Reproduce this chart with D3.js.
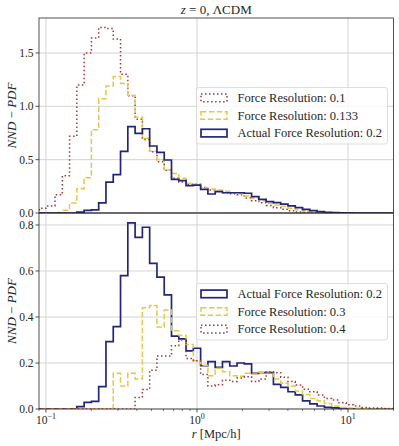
<!DOCTYPE html>
<html>
<head>
<meta charset="utf-8">
<script src="https://cdn.jsdelivr.net/npm/d3@7/dist/d3.min.js"></script>
<style>
  body { margin: 0; background: #fff; }
  svg { display: block; }
  text { font-family: "Liberation Serif", "DejaVu Serif", serif; fill: #262626; }
</style>
</head>
<body>
<div id="chart"></div>
<script>
// log-spaced bins shared by all histograms (first edge, width in dex, count)
var firstEdgeLog = -1.1326, binDex = 0.0482, nBins = 51;
var edges = d3.range(nBins + 1).map(function(i){ return Math.pow(10, firstEdgeLog + i * binDex); });

// top panel: z = 0
var redTop = [0.02,0.03,0.045,0.065,0.17,0.35,0.72,1.20,1.50,1.64,1.74,1.73,1.63,1.30,1.10,0.88,0.69,0.575,0.48,0.40,
  0.325,0.29,0.27,0.27,0.24,0.215,0.205,0.19,0.18,0.17,0.14,0.115,0.097,0.07,0.05,0.035,0.02,0.01,0.006,0.003,
  0.002,0.001,0,0,0,0,0,0,0,0,0];
var yellowTop = [0,0,0,0,0.005,0.025,0.094,0.228,0.33,0.78,1.07,1.19,1.28,1.215,1.105,0.90,0.70,0.58,0.50,0.405,
  0.37,0.325,0.28,0.27,0.24,0.225,0.215,0.205,0.19,0.18,0.16,0.135,0.115,0.09,0.075,0.06,0.045,0.03,0.02,0.012,
  0.007,0.004,0.002,0.001,0,0,0,0,0,0,0];
var blueTop = [0,0,0,0,0,0,0,0.008,0.025,0.03,0.094,0.29,0.36,0.578,0.81,0.747,0.79,0.628,0.569,0.497,
  0.316,0.303,0.256,0.262,0.222,0.178,0.20,0.19,0.19,0.19,0.185,0.153,0.128,0.106,0.097,0.084,0.066,0.05,0.034,0.022,
  0.013,0.007,0.004,0.002,0.001,0,0,0,0,0,0];
// bottom panel
var blueBot = [0,0,0,0,0,0,0,0.01,0.029,0.033,0.097,0.293,0.358,0.58,0.809,0.746,0.79,0.633,0.573,0.496,
  0.317,0.305,0.253,0.264,0.188,0.206,0.181,0.206,0.187,0.20,0.196,0.155,0.158,0.158,0.107,0.094,0.075,0.061,0.035,0.022,
  0.013,0.007,0.005,0.002,0.001,0,0,0,0,0,0];
var yellowBot = [0,0,0,0,0,0,0,0,0,0,0,0,0.155,0.10,0.155,0.13,0.44,0.45,0.356,0.43,
  0.34,0.32,0.28,0.21,0.19,0.145,0.177,0.162,0.145,0.142,0.155,0.152,0.158,0.162,0.13,0.112,0.10,0.078,0.063,0.046,
  0.036,0.024,0.013,0.007,0.004,0.003,0.002,0.001,0,0,0];
var redBot = [0,0,0,0,0,0,0,0,0,0,0,0,0,0,0,0.05,0.085,0.168,0.23,0.23,
  0.275,0.30,0.22,0.21,0.15,0.10,0.105,0.125,0.12,0.135,0.14,0.12,0.13,0.162,0.158,0.138,0.119,0.104,0.086,0.075,
  0.061,0.046,0.039,0.027,0.019,0.013,0.007,0.004,0.004,0.002,0.002];

var topTicks = [0, 0.5, 1.0, 1.5];
var botTicks = [0, 0.2, 0.4, 0.6, 0.8];
var xMajor = [0.1, 1, 10];
var xMajorExp = ["\u22121", "0", "1"];
var topLabels = ["Force Resolution: 0.1", "Force Resolution: 0.133", "Actual Force Resolution: 0.2"];
var botLabels = ["Actual Force Resolution: 0.2", "Force Resolution: 0.3", "Force Resolution: 0.4"];

var W = 399, H = 446;
var left = 39, right = 393.5;

var styles = {
  red:    {color: "#a8343a", dash: "1.5,2.5", width: 1.5},
  yellow: {color: "#e6c64c", dash: "5.5,2.4", width: 1.5},
  blue:   {color: "#22267a", dash: null, width: 1.7}
};

var svg = d3.select("#chart").append("svg")
    .attr("width", W).attr("height", H);

var x = d3.scaleLog().domain([0.09, 20]).range([left, right]);

var minorTicks = [];
[0.01, 0.1, 1, 10].forEach(function(dec){
  for (var m = 2; m <= 9; m++) {
    var v = m * dec;
    if (v >= 0.09 && v <= 20) minorTicks.push(v);
  }
});

function stepPoints(vals){
  var pts = [[edges[0], 0]];
  vals.forEach(function(v, i){
    pts.push([edges[i], v]);
    pts.push([edges[i + 1], v]);
  });
  pts.push([edges[vals.length], 0]);
  return pts;
}

function panel(id, top, bottom, ymax, ticks, series, labels, legendTop, showX){
  var y = d3.scaleLinear().domain([0, ymax]).range([bottom, top]);
  var g = svg.append("g");

  svg.append("clipPath").attr("id", id)
    .append("rect").attr("x", left).attr("y", top)
    .attr("width", right - left).attr("height", bottom - top);

  // grid
  g.selectAll(".hg").data(ticks).enter().append("line")
    .attr("x1", left).attr("x2", right)
    .attr("y1", function(d){ return y(d); }).attr("y2", function(d){ return y(d); })
    .attr("stroke", "#cfcfcf").attr("stroke-width", 0.9);
  g.selectAll(".vg").data(xMajor).enter().append("line")
    .attr("x1", function(d){ return x(d); }).attr("x2", function(d){ return x(d); })
    .attr("y1", top).attr("y2", bottom)
    .attr("stroke", "#cfcfcf").attr("stroke-width", 0.9);

  // histograms
  var line = d3.line()
    .x(function(d){ return x(d[0]); })
    .y(function(d){ return y(d[1]); });
  var hg = g.append("g").attr("clip-path", "url(#" + id + ")");
  series.forEach(function(s){
    var st = styles[s.style];
    hg.append("path")
      .datum(stepPoints(s.values))
      .attr("d", line)
      .attr("fill", "none")
      .attr("stroke", st.color)
      .attr("stroke-width", st.width)
      .attr("stroke-dasharray", st.dash)
      .attr("stroke-linejoin", "miter");
  });

  // frame
  g.append("rect").attr("x", left).attr("y", top)
    .attr("width", right - left).attr("height", bottom - top)
    .attr("fill", "none").attr("stroke", "#262626").attr("stroke-width", 0.8);

  // y ticks
  var yt = g.selectAll(".yt").data(ticks).enter().append("g");
  yt.append("line")
    .attr("x1", left - 3.5).attr("x2", left)
    .attr("y1", function(d){ return y(d); }).attr("y2", function(d){ return y(d); })
    .attr("stroke", "#262626").attr("stroke-width", 0.8);
  yt.append("text")
    .attr("x", left - 5.5).attr("y", function(d){ return y(d) + 4; })
    .attr("text-anchor", "end").attr("font-size", 11.5)
    .text(function(d){ return d3.format(".1f")(d); });

  // y label
  var yl = g.append("text")
    .attr("transform", "translate(16," + ((top + bottom) / 2) + ") rotate(-90)")
    .attr("text-anchor", "middle").attr("font-size", 13);
  yl.append("tspan").attr("font-style", "italic").text("NND");
  yl.append("tspan").text(" \u2212 ");
  yl.append("tspan").attr("font-style", "italic").text("PDF");

  if (showX) {
    g.selectAll(".xt").data(xMajor).enter().append("line")
      .attr("x1", function(d){ return x(d); }).attr("x2", function(d){ return x(d); })
      .attr("y1", bottom).attr("y2", bottom + 3.5)
      .attr("stroke", "#262626").attr("stroke-width", 0.8);
    g.selectAll(".xm").data(minorTicks).enter().append("line")
      .attr("x1", function(d){ return x(d); }).attr("x2", function(d){ return x(d); })
      .attr("y1", bottom).attr("y2", bottom + 2)
      .attr("stroke", "#262626").attr("stroke-width", 0.6);
    var xl = g.selectAll(".xl").data(xMajor).enter().append("text")
      .attr("x", function(d){ return x(d); }).attr("y", bottom + 15)
      .attr("text-anchor", "middle").attr("font-size", 11.5);
    xl.append("tspan").text("10");
    xl.append("tspan").attr("font-size", 8).attr("dy", -5)
      .text(function(d, i){ return xMajorExp[i]; });
  }

  // legend
  var lx = 196.5, lw = 191, lh = 56.5, rowH = 17.6;
  var lg = g.append("g");
  lg.append("rect").attr("x", lx).attr("y", legendTop)
    .attr("width", lw).attr("height", lh).attr("rx", 2.5)
    .attr("fill", "#fff").attr("fill-opacity", 0.8)
    .attr("stroke", "#d4d4d4").attr("stroke-width", 0.8);
  labels.forEach(function(lab, i){
    var st = styles[series[i].style];
    var cy = legendTop + 10.4 + i * rowH;
    lg.append("rect").attr("x", lx + 4.5).attr("y", cy - 3.8)
      .attr("width", 26).attr("height", 7.6)
      .attr("fill", "none").attr("stroke", st.color)
      .attr("stroke-width", st.width).attr("stroke-dasharray", st.dash);
    lg.append("text").attr("x", lx + 41).attr("y", cy + 4)
      .attr("font-size", 12.5).text(lab);
  });
}

panel("clipTop", 18, 213, 1.828, topTicks,
  [{values: redTop, style: "red"}, {values: yellowTop, style: "yellow"}, {values: blueTop, style: "blue"}],
  topLabels, 87.5, false);
panel("clipBot", 213, 409, 0.852, botTicks,
  [{values: blueBot, style: "blue"}, {values: yellowBot, style: "yellow"}, {values: redBot, style: "red"}],
  botLabels, 283.5, true);

// title
var title = svg.append("text").attr("x", (left + right) / 2).attr("y", 14)
  .attr("text-anchor", "middle").attr("font-size", 13);
title.append("tspan").attr("font-style", "italic").text("z");
title.append("tspan").text(" = 0, \u039BCDM");

// x label
var xlab = svg.append("text").attr("x", (left + right) / 2).attr("y", 438)
  .attr("text-anchor", "middle").attr("font-size", 12.5);
xlab.append("tspan").attr("font-style", "italic").text("r");
xlab.append("tspan").text(" [Mpc/h]");
</script>
</body>
</html>
